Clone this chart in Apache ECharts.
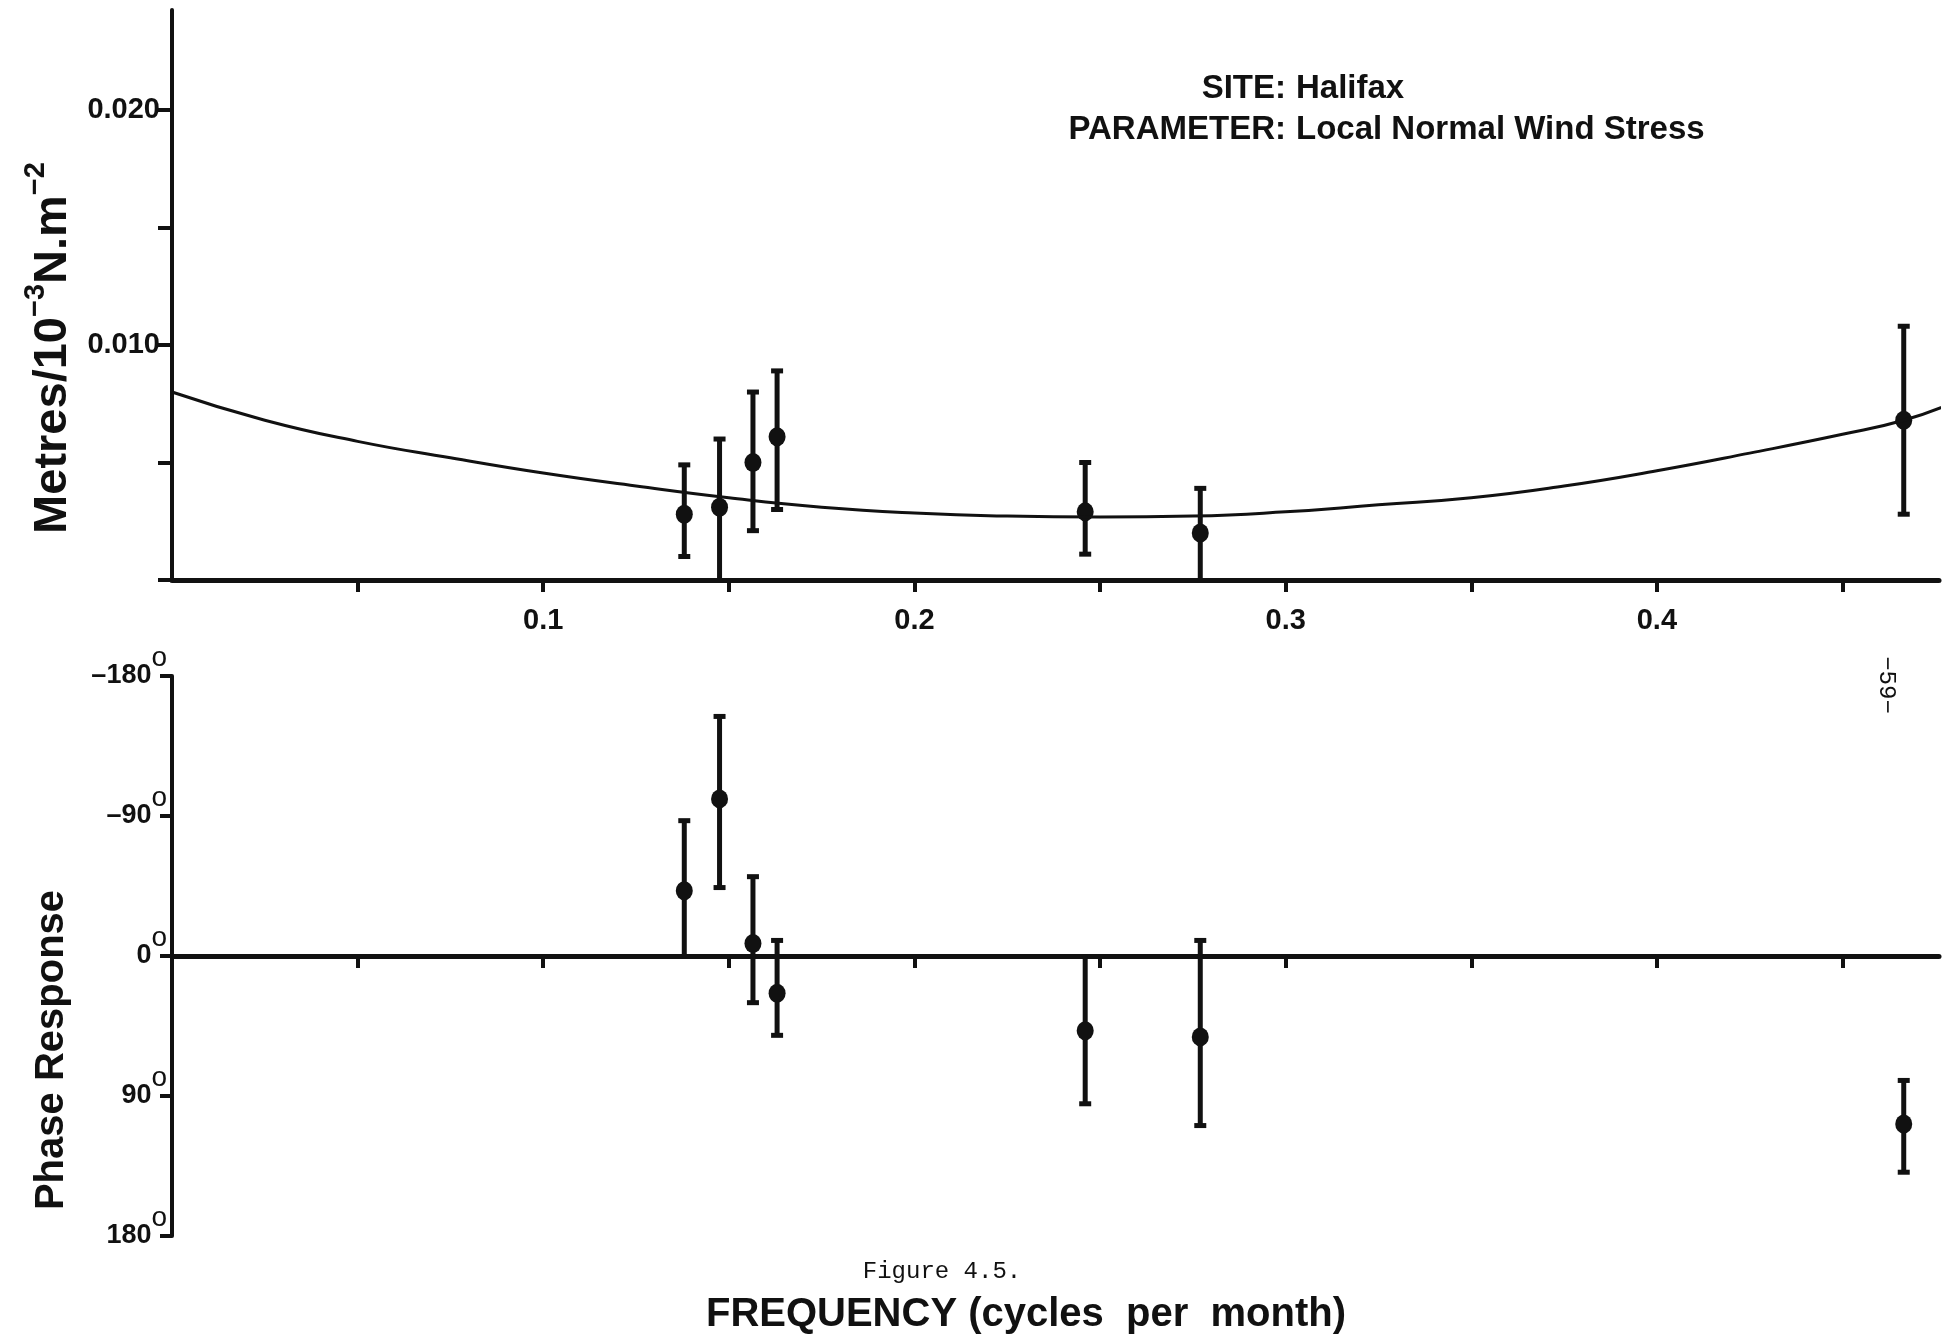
<!DOCTYPE html>
<html>
<head>
<meta charset="utf-8">
<title>Halifax - Local Normal Wind Stress</title>
<script src="https://cdn.jsdelivr.net/npm/echarts@6/dist/echarts.min.js"></script>
<style>
  html, body { margin: 0; padding: 0; background: #fff; }
  #chart { width: 1960px; height: 1338px; }
</style>
</head>
<body>
<div id="chart"></div>
<script>
// frequencies (cycles per month) of the estimates
const freq = [0.138, 0.1475, 0.1565, 0.163, 0.246, 0.277, 0.4665];
// amplitude response, metres per 10^-3 N.m^-2, with error bar ends
const amp = [0.0028, 0.0031, 0.0050, 0.0061, 0.0029, 0.0020, 0.0068];
const ampLo = [0.0010, 0, 0.0021, 0.0030, 0.0011, 0, 0.0028];
const ampHi = [0.0049, 0.0060, 0.0080, 0.0089, 0.0050, 0.0039, 0.0108];
// phase response in degrees, with error bar ends
const phase = [-42, -101, -8, 24, 48, 52, 108];
const phaseLo = [-87, -154, -51, -10, 0, -10, 80];
const phaseHi = [0, -44, 30, 51, 95, 109, 139];
// fitted amplitude curve
const curveFreq = [0, 0.025, 0.05, 0.075, 0.1, 0.125, 0.15, 0.175, 0.2, 0.225, 0.25, 0.275, 0.3, 0.325, 0.35, 0.375, 0.4, 0.425, 0.45, 0.4665, 0.479];
const curveAmp = [0.0080, 0.0068, 0.0059, 0.0052, 0.00455, 0.0040, 0.0035, 0.0031, 0.00285, 0.00272, 0.00268, 0.00272, 0.0029, 0.0032, 0.0035, 0.0040, 0.00465, 0.0054, 0.0062, 0.0068, 0.0075];
// axis ticks and labels
const freqTicks = [0.05, 0.1, 0.15, 0.2, 0.25, 0.3, 0.35, 0.4, 0.45];
const freqLabels = [0.1, 0.2, 0.3, 0.4];
const ampTicks = [0, 0.005, 0.01, 0.015, 0.02];
const ampLabels = [0.01, 0.02];

const INK = '#111';
const SANS = 'Liberation Sans, Arial, sans-serif';
const MONO = 'Liberation Mono, DejaVu Sans Mono, monospace';

const chart = echarts.init(document.getElementById('chart'));

// vertical error bar drawn through the axis scales
function errorBar(params, api) {
  const x = api.value(0);
  const lo = api.value(1);
  const hi = api.value(2);
  const a = api.coord([x, lo]);
  const b = api.coord([x, hi]);
  const style = { stroke: INK, lineWidth: 5 };
  const kids = [{ type: 'line', shape: { x1: a[0], y1: a[1], x2: b[0], y2: b[1] }, style: style }];
  if (lo !== 0) kids.push({ type: 'line', shape: { x1: a[0] - 6, y1: a[1], x2: a[0] + 6, y2: a[1] }, style: style });
  if (hi !== 0) kids.push({ type: 'line', shape: { x1: b[0] - 6, y1: b[1], x2: b[0] + 6, y2: b[1] }, style: style });
  return { type: 'group', children: kids };
}

const labelFont = { fontFamily: SANS, fontWeight: 'bold', fontSize: 29, color: INK };

const option = {
  backgroundColor: '#fff',
  animation: false,
  grid: [
    { left: 172, right: 21, top: 10, bottom: 758 },
    { left: 172, right: 21, top: 676, bottom: 102 }
  ],
  xAxis: [
    {
      gridIndex: 0, type: 'value', min: 0, max: 0.476,
      splitLine: { show: false },
      axisLine: { lineStyle: { color: INK, width: 5 } },
      axisTick: { customValues: freqTicks, length: 12, lineStyle: { color: INK, width: 4 } },
      axisLabel: Object.assign({ customValues: freqLabels, margin: 26, formatter: v => v.toFixed(1) }, labelFont)
    },
    {
      gridIndex: 1, type: 'value', min: 0, max: 0.476,
      splitLine: { show: false },
      axisLine: { onZero: true, lineStyle: { color: INK, width: 5 } },
      axisTick: { customValues: freqTicks, length: 12, lineStyle: { color: INK, width: 4 } },
      axisLabel: { show: false }
    }
  ],
  yAxis: [
    {
      gridIndex: 0, type: 'value', min: 0, max: 0.02426,
      splitLine: { show: false },
      axisLine: { show: true, lineStyle: { color: INK, width: 4 } },
      axisTick: { show: true, customValues: ampTicks, length: 14, lineStyle: { color: INK, width: 4 } },
      axisLabel: Object.assign({ customValues: ampLabels, margin: 12, formatter: v => v.toFixed(3) }, labelFont)
    },
    {
      gridIndex: 1, type: 'value', min: -180, max: 180, interval: 90, inverse: true,
      splitLine: { show: false },
      axisLine: { show: true, onZero: false, lineStyle: { color: INK, width: 4 } },
      axisTick: { show: true, length: 12, lineStyle: { color: INK, width: 4 } },
      axisLabel: {
        margin: 5,
        formatter: v => '{n|' + (v < 0 ? '\u2013' : '') + Math.abs(v) + '}{o|o}',
        rich: {
          n: { fontFamily: SANS, fontWeight: 'bold', fontSize: 27, color: INK },
          o: { fontFamily: SANS, fontSize: 28, color: INK, padding: [0, 0, 36, 0] }
        }
      }
    }
  ],
  series: [
    {
      type: 'line', xAxisIndex: 0, yAxisIndex: 0,
      data: curveFreq.map((f, i) => [f, curveAmp[i]]),
      smooth: 0.5, showSymbol: false, clip: false,
      lineStyle: { color: INK, width: 3 }
    },
    {
      type: 'custom', xAxisIndex: 0, yAxisIndex: 0,
      data: freq.map((f, i) => [f, ampLo[i], ampHi[i]]),
      encode: { x: 0, y: [1, 2] },
      renderItem: errorBar
    },
    {
      type: 'scatter', xAxisIndex: 0, yAxisIndex: 0,
      data: freq.map((f, i) => [f, amp[i]]),
      symbol: 'circle', symbolSize: [17, 19],
      itemStyle: { color: INK, opacity: 1 }
    },
    {
      type: 'custom', xAxisIndex: 1, yAxisIndex: 1,
      data: freq.map((f, i) => [f, phaseLo[i], phaseHi[i]]),
      encode: { x: 0, y: [1, 2] },
      renderItem: errorBar
    },
    {
      type: 'scatter', xAxisIndex: 1, yAxisIndex: 1,
      data: freq.map((f, i) => [f, phase[i]]),
      symbol: 'circle', symbolSize: [17, 19],
      itemStyle: { color: INK, opacity: 1 }
    }
  ],
  graphic: [
    // heading, colons lined up
    { type: 'text', x: 1286, y: 89, style: { text: 'SITE:', fontFamily: SANS, fontWeight: 'bold', fontSize: 33, fill: INK, align: 'right', verticalAlign: 'middle' } },
    { type: 'text', x: 1296, y: 89, style: { text: 'Halifax', fontFamily: SANS, fontWeight: 'bold', fontSize: 33, fill: INK, align: 'left', verticalAlign: 'middle' } },
    { type: 'text', x: 1286, y: 130, style: { text: 'PARAMETER:', fontFamily: SANS, fontWeight: 'bold', fontSize: 33, fill: INK, align: 'right', verticalAlign: 'middle' } },
    { type: 'text', x: 1296, y: 130, style: { text: 'Local Normal Wind Stress', fontFamily: SANS, fontWeight: 'bold', fontSize: 33, fill: INK, align: 'left', verticalAlign: 'middle' } },
    // y axis titles
    {
      type: 'text', x: 53, y: 348, rotation: Math.PI / 2,
      style: {
        text: '{n|Metres/10}{s|\u22123}{n|N.m}{s|\u22122}',
        align: 'center', verticalAlign: 'middle',
        rich: {
          n: { fontFamily: SANS, fontWeight: 'bold', fontSize: 47, fill: INK },
          s: { fontFamily: SANS, fontWeight: 'bold', fontSize: 29, fill: INK, padding: [0, 0, 34, 0] }
        }
      }
    },
    { type: 'text', x: 52, y: 1050, rotation: Math.PI / 2, style: { text: 'Phase Response', fontFamily: SANS, fontWeight: 'bold', fontSize: 40, fill: INK, align: 'center', verticalAlign: 'middle' } },
    // caption and x title
    { type: 'text', x: 942, y: 1272, style: { text: 'Figure 4.5.', fontFamily: MONO, fontSize: 24, fill: INK, align: 'center', verticalAlign: 'middle' } },
    { type: 'text', x: 1026, y: 1315, style: { text: 'FREQUENCY (cycles  per  month)', fontFamily: SANS, fontWeight: 'bold', fontSize: 40, fill: INK, align: 'center', verticalAlign: 'middle' } },
    // page number
    { type: 'text', x: 1886, y: 685, rotation: -Math.PI / 2, style: { text: '\u221259\u2212', fontFamily: MONO, fontSize: 24, fill: INK, align: 'center', verticalAlign: 'middle' } }
  ]
};

chart.setOption(option);
</script>
</body>
</html>
